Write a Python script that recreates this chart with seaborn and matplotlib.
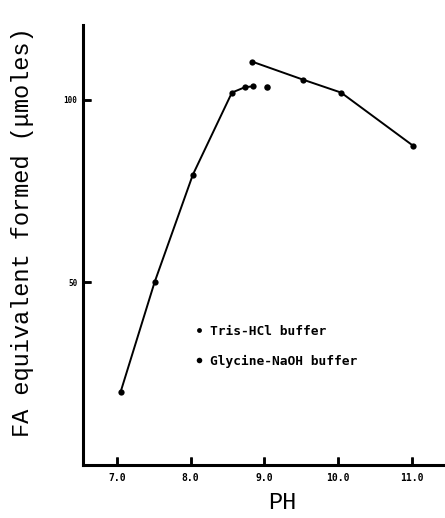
import numpy as np
import pandas as pd
import matplotlib
matplotlib.use('Agg')
import matplotlib.pyplot as plt
import seaborn as sns
from matplotlib.lines import Line2D

sns.set_theme(style="white")
plt.rcParams['font.family'] = ['DejaVu Sans Mono', 'DejaVu Sans']
plt.rcParams['text.color'] = 'black'
plt.rcParams['axes.labelcolor'] = 'black'
plt.rcParams['xtick.color'] = 'black'
plt.rcParams['ytick.color'] = 'black'

# Data
tris_ph = [7.05, 7.51, 8.03, 8.56, 8.74, 8.85]
tris_fa = [20.0, 50.0, 79.5, 102.0, 103.5, 103.7]
tris_extra_ph = [9.03]
tris_extra_fa = [103.6]
gly_ph = [8.83, 9.53, 10.04, 11.02]
gly_fa = [110.5, 105.5, 102.0, 87.4]
x_ticks = [7, 8, 9, 10, 11]
x_labels = ['7.0', '8.0', '9.0', '10.0', '11.0']
y_ticks = [50, 100]
y_labels = ['50', '100']

tris = pd.DataFrame({'pH': tris_ph, 'FA': tris_fa})
tris_extra = pd.DataFrame({'pH': tris_extra_ph, 'FA': tris_extra_fa})
gly = pd.DataFrame({'pH': gly_ph, 'FA': gly_fa})

fig = plt.figure(figsize=(4.45, 5.18), dpi=100)
ax = fig.add_axes([0.1865, 0.1023, 0.8135, 0.8494])

sns.lineplot(data=tris, x='pH', y='FA', color='black', linewidth=1.4,
             marker='o', markersize=4.5, markeredgewidth=0, sort=False, ax=ax)
sns.lineplot(data=gly, x='pH', y='FA', color='black', linewidth=1.4,
             marker='o', markersize=4.5, markeredgewidth=0, sort=False, ax=ax)
sns.scatterplot(data=tris_extra, x='pH', y='FA', color='black', s=22,
                linewidth=0, ax=ax)

ax.set_xlim(6.54, 11.45)
ax.set_ylim(0, 120.5)
ax.set_xticks(x_ticks)
ax.set_xticklabels(x_labels, fontsize=7, fontweight='bold')
ax.set_yticks(y_ticks)
ax.set_yticklabels(y_labels, fontsize=5.5, fontweight='bold')
ax.tick_params(direction='in', length=6, width=1.8, color='black',
               bottom=True, left=True)
ax.tick_params(axis='x', pad=6)
ax.tick_params(axis='y', pad=4)

# inward tick marks drawn at the tick positions (axis-fraction length)
ax.vlines(x_ticks, 0, 0.018, transform=ax.get_xaxis_transform(),
          color='black', linewidth=1.8, zorder=5)
ax.hlines(y_ticks, 0, 0.022, transform=ax.get_yaxis_transform(),
          color='black', linewidth=1.8, zorder=5)

for s in ['top', 'right']:
    ax.spines[s].set_visible(False)
for s in ['left', 'bottom']:
    ax.spines[s].set_color('black')
    ax.spines[s].set_linewidth(2.2)

ax.set_xlabel('PH', fontsize=17, family='Liberation Mono')
ax.set_ylabel('FA equivalent formed (\u03bcmoles)', fontsize=17,
              family='Liberation Mono')
ax.xaxis.set_label_coords(0.55, -0.058)
ax.yaxis.set_label_coords(-0.135, 0.53)

handles = [Line2D([], [], linestyle='none', marker='o', color='black',
                  markersize=3.5, markeredgewidth=0),
           Line2D([], [], linestyle='none', marker='o', color='black',
                  markersize=4, markeredgewidth=0)]
leg = ax.legend(handles, ['Tris-HCl buffer', 'Glycine-NaOH buffer'],
                loc='center left', bbox_to_anchor=(0.27, 0.27),
                frameon=False, handlelength=1.0, handletextpad=0.4,
                labelspacing=1.3,
                prop={'family': 'DejaVu Sans Mono', 'weight': 'bold', 'size': 9.3})

fig.savefig('out.png', dpi=100)
